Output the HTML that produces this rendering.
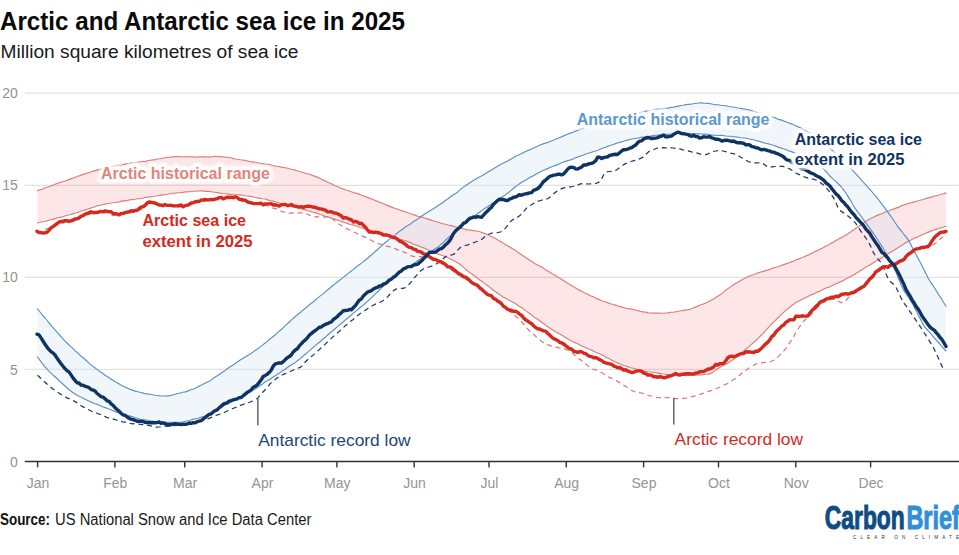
<!DOCTYPE html>
<html><head><meta charset="utf-8"><title>Arctic and Antarctic sea ice in 2025</title>
<style>html,body{margin:0;padding:0;background:#fff;width:959px;height:555px;overflow:hidden;font-family:"Liberation Sans",sans-serif}</style></head>
<body>
<svg width="959" height="555" viewBox="0 0 959 555" style="display:block">
<rect width="959" height="555" fill="#fff"/>
<g font-family="Liberation Sans, sans-serif" fill="#111">
<text x="0" y="29.7" font-size="25.4" font-weight="bold" textLength="405" lengthAdjust="spacingAndGlyphs" fill="#0a0a0a">Arctic and Antarctic sea ice in 2025</text>
<text x="0.5" y="57.5" font-size="18.8" textLength="298" lengthAdjust="spacingAndGlyphs" fill="#1a1a1a">Million square kilometres of sea ice</text>
<text x="0" y="525.3" font-size="16" font-weight="bold" textLength="50" lengthAdjust="spacingAndGlyphs" fill="#111">Source:</text>
<text x="55" y="525.3" font-size="16" textLength="256.4" lengthAdjust="spacingAndGlyphs" fill="#1a1a1a">US National Snow and Ice Data Center</text>
</g>
<g stroke="#e3e3e3" stroke-width="1.3">
<line x1="25" x2="959" y1="369.4" y2="369.4"/>
<line x1="25" x2="959" y1="277.3" y2="277.3"/>
<line x1="25" x2="959" y1="185.3" y2="185.3"/>
<line x1="25" x2="959" y1="93.2" y2="93.2"/>
</g>
<g font-family="Liberation Sans, sans-serif" font-size="14" fill="#949494">
<text x="17.8" y="466.6" text-anchor="end">0</text>
<text x="17.8" y="374.5" text-anchor="end">5</text>
<text x="17.8" y="282.4" text-anchor="end">10</text>
<text x="17.8" y="190.4" text-anchor="end">15</text>
<text x="17.8" y="98.3" text-anchor="end">20</text>
<text x="38.0" y="488.3" text-anchor="middle">Jan</text>
<text x="115.3" y="488.3" text-anchor="middle">Feb</text>
<text x="185.1" y="488.3" text-anchor="middle">Mar</text>
<text x="262.5" y="488.3" text-anchor="middle">Apr</text>
<text x="337.3" y="488.3" text-anchor="middle">May</text>
<text x="414.6" y="488.3" text-anchor="middle">Jun</text>
<text x="489.4" y="488.3" text-anchor="middle">Jul</text>
<text x="566.7" y="488.3" text-anchor="middle">Aug</text>
<text x="644.0" y="488.3" text-anchor="middle">Sep</text>
<text x="718.9" y="488.3" text-anchor="middle">Oct</text>
<text x="796.2" y="488.3" text-anchor="middle">Nov</text>
<text x="871.0" y="488.3" text-anchor="middle">Dec</text>
</g>
<path d="M37.5,190.6 40,189.7 42.5,189.1 45,187.9 47.5,187 50,186.3 52.5,185.4 55,184.2 57.5,183.4 60,182.5 62.5,181.7 65,181 67.5,180.1 70,179.1 72.5,178.2 75,177.4 77.5,176.2 80,175.6 82.5,174.6 85.1,173.7 87.6,172.9 90.1,172.3 92.6,171.4 95.1,170.6 97.6,169.9 100.1,169.2 102.6,168.4 105.1,168.1 107.6,167.4 110.1,166.8 112.6,166.4 115.1,166.1 117.6,165.4 120.1,165.2 122.6,164.7 125.1,164.1 127.6,163.6 130.1,163.4 132.6,162.8 135.1,162.7 137.6,162.2 140.1,161.8 142.6,161.5 145.1,161.4 147.6,160.7 150.1,160.3 152.6,159.9 155.1,159.6 157.6,159 160.1,158.7 162.6,158.2 165.1,157.8 167.6,157.4 170.1,157.2 172.6,156.7 175.2,156.6 177.7,156.5 180.2,156.7 182.7,156.7 185.2,156.9 187.7,156.8 190.2,156.7 192.7,156.9 195.2,157.1 197.7,157 200.2,156.9 202.7,156.9 205.2,156.9 207.7,157 210.2,157.1 212.7,156.7 215.2,156.4 217.7,156.5 220.2,156.6 222.7,156.7 225.2,157.1 227.7,157.3 230.2,157.8 232.7,158.4 235.2,159 237.7,159.2 240.2,159.7 242.7,160 245.2,160.5 247.7,161 250.2,161.6 252.7,161.9 255.2,162.3 257.7,162.8 260.2,163.2 262.7,163.5 265.3,164 267.8,164.3 270.3,164.8 272.8,165.5 275.3,166.1 277.8,166.3 280.3,166.9 282.8,167.4 285.3,167.8 287.8,168.3 290.3,169 292.8,169.5 295.3,170.1 297.8,171 300.3,171.7 302.8,172.2 305.3,173.2 307.8,173.8 310.3,174.5 312.8,175.6 315.3,176.4 317.8,177.4 320.3,178.5 322.8,179.9 325.3,181 327.8,182.2 330.3,183.3 332.8,184.5 335.3,185.7 337.8,186.7 340.3,188 342.8,188.9 345.3,189.8 347.8,190.5 350.3,191.5 352.8,192.3 355.3,193.1 357.9,193.6 360.4,194.7 362.9,195.8 365.4,196.6 367.9,197.6 370.4,198.5 372.9,199.5 375.4,200.5 377.9,201.6 380.4,202.5 382.9,203.5 385.4,204.6 387.9,205.6 390.4,206.6 392.9,207.6 395.4,208.5 397.9,209.2 400.4,210.2 402.9,211.1 405.4,211.7 407.9,212.8 410.4,213.8 412.9,214.5 415.4,215.4 417.9,216.3 420.4,216.9 422.9,217.5 425.4,218.3 427.9,219.1 430.4,219.9 432.9,220.8 435.4,221.5 437.9,222.2 440.4,223 442.9,223.8 445.4,224.2 448,225 450.5,225.4 453,226.1 455.5,227 458,227.9 460.5,228.2 463,228.7 465.5,229.4 468,229.9 470.5,230.1 473,230.6 475.5,230.8 478,231.2 480.5,232 483,232.9 485.5,233.7 488,234.7 490.5,235.9 493,237.2 495.5,238.6 498,240.1 500.5,241.4 503,243 505.5,244.5 508,246.1 510.5,247.5 513,249.1 515.5,250.4 518,252.2 520.5,254.1 523,255.8 525.5,257.4 528,259 530.5,260.8 533,262.2 535.5,263.9 538.1,265.2 540.6,266.4 543.1,267.9 545.6,269.7 548.1,271.2 550.6,272.7 553.1,274.2 555.6,275.6 558.1,277.2 560.6,278.7 563.1,280.2 565.6,281.7 568.1,283.4 570.6,285 573.1,286.6 575.6,288 578.1,289.6 580.6,290.6 583.1,292 585.6,293.3 588.1,294.4 590.6,295.7 593.1,296.8 595.6,298 598.1,299.1 600.6,300.2 603.1,301.2 605.6,301.8 608.1,302.9 610.6,303.8 613.1,304.5 615.6,305.1 618.1,306 620.6,306.6 623.1,307.4 625.6,308.2 628.2,308.6 630.7,308.9 633.2,309.6 635.7,310 638.2,310.7 640.7,311.4 643.2,311.9 645.7,312.1 648.2,312.9 650.7,313 653.2,313.1 655.7,313.1 658.2,313.1 660.7,313.2 663.2,313.2 665.7,313 668.2,312.9 670.7,312.3 673.2,312.2 675.7,311.7 678.2,311.3 680.7,310.8 683.2,310.6 685.7,309.9 688.2,309.6 690.7,309 693.2,308 695.7,306.9 698.2,306.1 700.7,304.8 703.2,304 705.7,303 708.2,301.8 710.7,300.4 713.2,299.2 715.7,297.6 718.2,295.9 720.8,294.3 723.3,292.4 725.8,290.3 728.3,288.4 730.8,286.6 733.3,284.9 735.8,283.3 738.3,282 740.8,280.4 743.3,279.1 745.8,277.8 748.3,276.5 750.8,275.5 753.3,274.8 755.8,273.8 758.3,272.9 760.8,272 763.3,271.4 765.8,270.4 768.3,269.9 770.8,269 773.3,267.9 775.8,267.2 778.3,266.8 780.8,265.6 783.3,264.9 785.8,263.9 788.3,263 790.8,262.1 793.3,261.2 795.8,260 798.3,259.1 800.8,258 803.3,257.2 805.8,255.9 808.3,255.1 810.9,253.6 813.4,252.5 815.9,251.1 818.4,250.1 820.9,248.7 823.4,247.5 825.9,246.1 828.4,244.9 830.9,243.4 833.4,242.3 835.9,240.6 838.4,239.2 840.9,237.8 843.4,236.4 845.9,234.9 848.4,233.4 850.9,231.7 853.4,229.9 855.9,228.2 858.4,226.6 860.9,224.7 863.4,223.2 865.9,221.3 868.4,219.7 870.9,218.3 873.4,217.3 875.9,215.9 878.4,214.9 880.9,214 883.4,213 885.9,211.8 888.4,211 890.9,210 893.4,209.1 895.9,208.1 898.4,207.4 901,205.9 903.5,205.1 906,204.2 908.5,203.4 911,202.7 913.5,202.1 916,201.2 918.5,200.7 921,200 923.5,199.5 926,198.4 928.5,197.9 931,197.1 933.5,196.2 936,195.7 938.5,195.2 941,194.3 943.5,193.8 946,192.9 L946.0,226.3 943.5,227.2 941.0,227.7 938.5,228.5 936.0,229.4 933.5,230.5 931.0,231.1 928.5,232.1 926.0,233.2 923.5,234.3 921.0,235.2 918.5,236.6 916.0,237.6 913.5,238.4 911.0,239.9 908.5,241.2 906.0,242.4 903.5,244.2 901.0,245.7 898.4,247.5 895.9,249.1 893.4,250.8 890.9,252.1 888.4,253.6 885.9,255.3 883.4,256.8 880.9,258.2 878.4,260.0 875.9,261.2 873.4,262.7 870.9,264.3 868.4,265.8 865.9,267.1 863.4,268.7 860.9,270.3 858.4,271.9 855.9,273.5 853.4,275.2 850.9,276.3 848.4,277.8 845.9,279.1 843.4,280.5 840.9,281.6 838.4,282.7 835.9,283.8 833.4,285.1 830.9,286.3 828.4,287.4 825.9,288.0 823.4,289.3 820.9,290.7 818.4,291.6 815.9,292.7 813.4,294.1 810.9,294.9 808.3,296.3 805.8,297.6 803.3,298.8 800.8,300.0 798.3,301.3 795.8,302.6 793.3,304.5 790.8,306.3 788.3,308.5 785.8,310.4 783.3,312.7 780.8,315.1 778.3,317.5 775.8,319.8 773.3,322.4 770.8,324.9 768.3,327.6 765.8,330.4 763.3,333.1 760.8,335.5 758.3,338.2 755.8,340.5 753.3,342.7 750.8,344.9 748.3,347.2 745.8,348.9 743.3,351.3 740.8,353.6 738.3,355.5 735.8,357.5 733.3,359.5 730.8,361.0 728.3,362.7 725.8,364.3 723.3,365.5 720.8,366.7 718.2,368.6 715.7,370.1 713.2,371.9 710.7,373.4 708.2,374.3 705.7,374.2 703.2,374.6 700.7,374.9 698.2,374.9 695.7,375.1 693.2,375.3 690.7,375.3 688.2,375.5 685.7,375.5 683.2,375.4 680.7,375.2 678.2,375.4 675.7,375.2 673.2,375.0 670.7,375.0 668.2,374.6 665.7,374.3 663.2,374.0 660.7,373.6 658.2,373.1 655.7,372.7 653.2,372.3 650.7,372.0 648.2,371.8 645.7,371.4 643.2,370.7 640.7,370.0 638.2,369.7 635.7,369.0 633.2,368.3 630.7,367.7 628.2,366.9 625.6,366.0 623.1,365.5 620.6,364.3 618.1,363.1 615.6,362.0 613.1,360.7 610.6,359.6 608.1,358.2 605.6,357.1 603.1,355.6 600.6,354.2 598.1,353.3 595.6,352.2 593.1,350.9 590.6,349.8 588.1,348.7 585.6,347.5 583.1,346.6 580.6,345.4 578.1,344.1 575.6,342.9 573.1,341.8 570.6,340.4 568.1,338.9 565.6,337.4 563.1,335.9 560.6,334.5 558.1,333.3 555.6,331.8 553.1,330.2 550.6,328.6 548.1,327.0 545.6,325.1 543.1,323.3 540.6,321.5 538.1,319.5 535.5,317.9 533.0,316.3 530.5,314.1 528.0,312.4 525.5,310.6 523.0,308.6 520.5,306.9 518.0,305.4 515.5,303.7 513.0,302.2 510.5,300.9 508.0,299.6 505.5,298.3 503.0,296.9 500.5,295.3 498.0,293.4 495.5,291.7 493.0,290.0 490.5,287.9 488.0,286.0 485.5,284.1 483.0,282.1 480.5,280.4 478.0,278.8 475.5,276.8 473.0,274.8 470.5,273.1 468.0,271.3 465.5,269.2 463.0,266.9 460.5,264.8 458.0,263.0 455.5,261.6 453.0,260.3 450.5,259.0 448.0,257.8 445.4,256.6 442.9,255.8 440.4,254.8 437.9,254.1 435.4,252.7 432.9,251.5 430.4,250.7 427.9,249.7 425.4,248.5 422.9,247.6 420.4,246.7 417.9,245.6 415.4,244.8 412.9,244.0 410.4,242.5 407.9,241.6 405.4,240.7 402.9,240.0 400.4,239.2 397.9,238.8 395.4,238.1 392.9,237.5 390.4,237.1 387.9,236.3 385.4,235.4 382.9,234.8 380.4,234.0 377.9,233.4 375.4,232.4 372.9,231.7 370.4,230.7 367.9,229.8 365.4,229.2 362.9,228.3 360.4,227.5 357.9,226.5 355.3,225.8 352.8,224.9 350.3,224.5 347.8,223.6 345.3,222.7 342.8,221.9 340.3,221.0 337.8,220.2 335.3,219.4 332.8,218.6 330.3,217.7 327.8,216.9 325.3,216.3 322.8,215.3 320.3,214.5 317.8,213.6 315.3,212.6 312.8,212.2 310.3,211.4 307.8,210.7 305.3,209.9 302.8,209.3 300.3,208.7 297.8,208.0 295.3,207.4 292.8,206.6 290.3,205.7 287.8,205.1 285.3,204.7 282.8,204.0 280.3,203.3 277.8,202.5 275.3,201.8 272.8,201.1 270.3,200.6 267.8,199.9 265.3,199.0 262.7,198.8 260.2,198.4 257.7,197.9 255.2,197.5 252.7,196.8 250.2,196.4 247.7,196.0 245.2,195.8 242.7,195.2 240.2,194.9 237.7,194.7 235.2,194.7 232.7,194.6 230.2,194.4 227.7,194.1 225.2,193.8 222.7,193.5 220.2,193.1 217.7,192.6 215.2,192.2 212.7,192.0 210.2,191.6 207.7,191.2 205.2,191.4 202.7,190.9 200.2,190.9 197.7,191.0 195.2,191.2 192.7,191.3 190.2,191.8 187.7,191.9 185.2,191.9 182.7,192.4 180.2,192.8 177.7,192.7 175.2,193.1 172.6,193.3 170.1,193.7 167.6,194.2 165.1,194.6 162.6,194.9 160.1,195.4 157.6,195.8 155.1,196.3 152.6,196.5 150.1,196.9 147.6,197.1 145.1,197.5 142.6,198.3 140.1,198.6 137.6,198.7 135.1,199.2 132.6,199.6 130.1,199.8 127.6,200.4 125.1,200.9 122.6,200.9 120.1,201.6 117.6,202.1 115.1,202.5 112.6,202.8 110.1,203.2 107.6,203.5 105.1,204.1 102.6,204.7 100.1,205.3 97.6,205.6 95.1,206.8 92.6,207.5 90.1,208.3 87.6,209.0 85.1,209.9 82.5,210.5 80.0,211.5 77.5,212.5 75.0,213.2 72.5,213.9 70.0,214.7 67.5,215.3 65.0,216.0 62.5,216.7 60.0,217.4 57.5,217.8 55.0,218.6 52.5,219.4 50.0,220.0 47.5,220.7 45.0,221.5 42.5,221.7 40.0,222.3 37.5,223.0Z" fill="#ee2f3f" fill-opacity="0.12"/>
<path d="M37.5,308.9 40,312 42.5,315.2 45,318 47.5,321 50,324.1 52.5,327.1 55,329.8 57.5,332.7 60,335.5 62.5,338.3 65,341.1 67.5,343.5 70,345.9 72.5,348.2 75,350.7 77.5,352.6 80,355.2 82.5,357.3 85.1,359.5 87.6,361.7 90.1,364.1 92.6,366.1 95.1,368 97.6,369.9 100.1,371.8 102.6,373.3 105.1,375.3 107.6,376.8 110.1,378.4 112.6,380 115.1,381.7 117.6,383 120.1,384.6 122.6,385.9 125.1,387.1 127.6,388.1 130.1,389.4 132.6,390.1 135.1,391.1 137.6,391.7 140.1,392.3 142.6,392.9 145.1,393.7 147.6,393.9 150.1,394.3 152.6,394.7 155.1,395.3 157.6,395.5 160.1,396 162.6,396 165.1,396 167.6,395.9 170.1,395.8 172.6,395 175.2,394.3 177.7,393.5 180.2,393 182.7,392.3 185.2,391.9 187.7,391.1 190.2,390 192.7,389.2 195.2,388.3 197.7,387 200.2,385.6 202.7,384.4 205.2,383.1 207.7,381.9 210.2,380.7 212.7,378.9 215.2,377 217.7,375.5 220.2,373.8 222.7,372 225.2,370.4 227.7,368.5 230.2,366.8 232.7,365.2 235.2,363.6 237.7,361.7 240.2,360.1 242.7,358.5 245.2,357 247.7,355.5 250.2,354.1 252.7,352.2 255.2,350.4 257.7,348.7 260.2,346.9 262.7,344.9 265.3,343 267.8,340.9 270.3,338.8 272.8,336.8 275.3,334.8 277.8,332.4 280.3,330.3 282.8,328.1 285.3,325.7 287.8,323.3 290.3,321.2 292.8,318.7 295.3,316.5 297.8,314.5 300.3,312.5 302.8,310.2 305.3,308.3 307.8,306.1 310.3,304 312.8,302.2 315.3,300 317.8,297.9 320.3,295.9 322.8,294.1 325.3,291.9 327.8,289.8 330.3,287.7 332.8,285.5 335.3,283.6 337.8,281.5 340.3,279.7 342.8,277.6 345.3,275.7 347.8,273.6 350.3,271.8 352.8,269.9 355.3,267.8 357.9,265.6 360.4,263.9 362.9,262.1 365.4,260 367.9,258 370.4,255.8 372.9,253.6 375.4,251.3 377.9,249.2 380.4,246.8 382.9,244.5 385.4,242.5 387.9,240.4 390.4,238.4 392.9,236.5 395.4,234.6 397.9,232.5 400.4,230.8 402.9,229 405.4,227 407.9,225.5 410.4,224 412.9,222.1 415.4,220.4 417.9,218.9 420.4,217 422.9,215.3 425.4,213.7 427.9,212.1 430.4,210.5 432.9,209.1 435.4,207.4 437.9,205.7 440.4,204.1 442.9,202.5 445.4,200.5 448,198.8 450.5,196.8 453,195 455.5,193.4 458,191.7 460.5,189.4 463,187.4 465.5,185.6 468,184 470.5,182.2 473,180.8 475.5,179.3 478,177.8 480.5,176.6 483,175.2 485.5,173.6 488,172 490.5,170.5 493,169 495.5,167.5 498,166.1 500.5,164.5 503,163.2 505.5,162 508,160.8 510.5,159.2 513,157.9 515.5,156.3 518,155.2 520.5,154 523,152.9 525.5,151.6 528,150.4 530.5,149.5 533,148.2 535.5,147.3 538.1,146.1 540.6,144.8 543.1,143.9 545.6,143.1 548.1,142.2 550.6,141.3 553.1,140.3 555.6,139.2 558.1,138.3 560.6,137.2 563.1,136.1 565.6,135 568.1,134 570.6,133.1 573.1,132.2 575.6,131.1 578.1,130.3 580.6,129.1 583.1,128.3 585.6,127.4 588.1,126.4 590.6,125.7 593.1,124.9 595.6,124.1 598.1,123.4 600.6,122.7 603.1,122 605.6,121 608.1,120.4 610.6,119.8 613.1,119 615.6,118.2 618.1,117.7 620.6,117 623.1,116.4 625.6,116 628.2,115.2 630.7,114.4 633.2,113.9 635.7,113.2 638.2,112.7 640.7,112.3 643.2,111.8 645.7,111.1 648.2,111 650.7,110.4 653.2,109.9 655.7,109.4 658.2,109 660.7,108.9 663.2,108.6 665.7,108.3 668.2,108.1 670.7,107.4 673.2,107.2 675.7,106.6 678.2,106.1 680.7,105.5 683.2,105.2 685.7,104.6 688.2,104.4 690.7,104.2 693.2,103.7 695.7,103.3 698.2,103.2 700.7,102.8 703.2,103.1 705.7,103.3 708.2,103.4 710.7,103.7 713.2,104.2 715.7,104.6 718.2,104.8 720.8,105.3 723.3,105.5 725.8,105.8 728.3,106.3 730.8,106.7 733.3,107 735.8,107.5 738.3,108 740.8,108.4 743.3,108.9 745.8,109.3 748.3,109.7 750.8,110.3 753.3,111.3 755.8,111.9 758.3,112.7 760.8,113.3 763.3,114.2 765.8,114.8 768.3,115.9 770.8,116.6 773.3,117.2 775.8,118.1 778.3,119.4 780.8,119.9 783.3,120.9 785.8,121.7 788.3,122.7 790.8,123.6 793.3,124.8 795.8,125.7 798.3,126.9 800.8,128 803.3,129.5 805.8,130.7 808.3,132.3 810.9,133.4 813.4,135.1 815.9,136.5 818.4,138.5 820.9,140.2 823.4,142.4 825.9,144.5 828.4,146.8 830.9,149 833.4,151.5 835.9,153.5 838.4,155.9 840.9,158.3 843.4,160.8 845.9,163.3 848.4,165.9 850.9,168.5 853.4,171.1 855.9,173.8 858.4,176.7 860.9,179.3 863.4,182.3 865.9,184.9 868.4,187.8 870.9,190.5 873.4,193.6 875.9,196.3 878.4,199.5 880.9,202.8 883.4,206.1 885.9,209.3 888.4,212.9 890.9,216.3 893.4,220 895.9,223.7 898.4,227.5 901,230.5 903.5,233.8 906,236.9 908.5,240.4 911,244.7 913.5,250.1 916,254.5 918.5,259.1 921,263.7 923.5,268.8 926,273.7 928.5,278.7 931,282.8 933.5,286.2 936,290.3 938.5,294.4 941,298.1 943.5,302.3 946,306.2 L946.0,351.0 943.5,348.4 941.0,345.4 938.5,342.5 936.0,339.8 933.5,337.0 931.0,333.8 928.5,331.2 926.0,328.5 923.5,325.3 921.0,320.1 918.5,315.6 916.0,310.6 913.5,305.5 911.0,301.3 908.5,297.2 906.0,293.6 903.5,290.1 901.0,284.5 898.4,278.2 895.9,272.1 893.4,267.1 890.9,261.9 888.4,257.2 885.9,253.0 883.4,248.8 880.9,244.6 878.4,241.0 875.9,237.0 873.4,233.3 870.9,229.8 868.4,226.4 865.9,222.8 863.4,219.6 860.9,216.2 858.4,212.9 855.9,209.4 853.4,205.8 850.9,201.1 848.4,197.1 845.9,193.0 843.4,189.6 840.9,186.5 838.4,184.0 835.9,181.6 833.4,179.4 830.9,177.0 828.4,174.4 825.9,171.3 823.4,169.1 820.9,167.3 818.4,165.3 815.9,163.7 813.4,162.5 810.9,160.8 808.3,159.6 805.8,158.4 803.3,157.1 800.8,155.7 798.3,154.5 795.8,153.2 793.3,152.4 790.8,151.4 788.3,150.7 785.8,149.5 783.3,148.7 780.8,147.9 778.3,147.1 775.8,146.1 773.3,145.3 770.8,144.5 768.3,143.9 765.8,143.3 763.3,142.6 760.8,141.7 758.3,141.1 755.8,140.5 753.3,139.8 750.8,139.2 748.3,138.8 745.8,138.0 743.3,138.0 740.8,137.8 738.3,137.3 735.8,136.9 733.3,136.8 730.8,136.3 728.3,136.2 725.8,136.0 723.3,135.6 720.8,135.3 718.2,135.5 715.7,135.2 713.2,135.1 710.7,134.9 708.2,134.6 705.7,134.0 703.2,134.1 700.7,134.0 698.2,133.8 695.7,133.8 693.2,133.7 690.7,133.6 688.2,133.7 685.7,133.6 683.2,133.5 680.7,133.2 678.2,133.5 675.7,133.5 673.2,133.7 670.7,134.0 668.2,134.2 665.7,134.4 663.2,134.8 660.7,135.0 658.2,135.1 655.7,135.3 653.2,135.6 650.7,136.1 648.2,136.5 645.7,137.0 643.2,137.1 640.7,137.4 638.2,138.0 635.7,138.4 633.2,138.7 630.7,139.3 628.2,139.9 625.6,140.5 623.1,141.5 620.6,142.1 618.1,142.8 615.6,143.6 613.1,144.5 610.6,145.5 608.1,146.1 605.6,147.2 603.1,148.0 600.6,149.0 598.1,150.2 595.6,151.0 593.1,151.7 590.6,152.5 588.1,153.3 585.6,154.0 583.1,155.2 580.6,156.0 578.1,156.9 575.6,157.8 573.1,159.0 570.6,159.9 568.1,160.6 565.6,161.4 563.1,162.3 560.6,163.2 558.1,164.4 555.6,165.4 553.1,166.2 550.6,167.3 548.1,168.4 545.6,169.4 543.1,170.6 540.6,171.8 538.1,172.9 535.5,174.4 533.0,176.0 530.5,177.1 528.0,178.7 525.5,180.2 523.0,181.5 520.5,183.0 518.0,184.9 515.5,186.7 513.0,188.7 510.5,190.9 508.0,193.0 505.5,194.9 503.0,196.5 500.5,198.1 498.0,199.5 495.5,201.4 493.0,203.2 490.5,204.7 488.0,206.4 485.5,208.1 483.0,209.6 480.5,211.5 478.0,213.5 475.5,215.1 473.0,216.9 470.5,219.1 468.0,221.4 465.5,223.3 463.0,225.3 460.5,227.2 458.0,229.1 455.5,231.1 453.0,233.4 450.5,235.6 448.0,238.0 445.4,240.3 442.9,242.8 440.4,244.9 437.9,247.2 435.4,248.6 432.9,250.3 430.4,252.2 427.9,253.9 425.4,255.4 422.9,257.2 420.4,259.0 417.9,260.5 415.4,262.5 412.9,264.4 410.4,265.6 407.9,267.3 405.4,269.0 402.9,270.7 400.4,272.3 397.9,274.3 395.4,275.9 392.9,277.8 390.4,279.9 387.9,282.0 385.4,283.9 382.9,286.5 380.4,288.8 377.9,291.5 375.4,293.8 372.9,296.4 370.4,298.7 367.9,300.9 365.4,303.3 362.9,305.4 360.4,307.5 357.9,309.4 355.3,311.6 352.8,313.6 350.3,316.0 347.8,318.0 345.3,320.0 342.8,322.2 340.3,324.2 337.8,326.4 335.3,328.5 332.8,330.8 330.3,332.8 327.8,335.0 325.3,337.3 322.8,339.3 320.3,341.5 317.8,343.5 315.3,345.4 312.8,347.8 310.3,349.9 307.8,352.1 305.3,354.2 302.8,356.5 300.3,358.6 297.8,360.5 295.3,362.4 292.8,364.1 290.3,365.5 287.8,367.3 285.3,369.2 282.8,370.8 280.3,372.5 277.8,374.1 275.3,375.7 272.8,377.2 270.3,379.0 267.8,380.5 265.3,381.8 262.7,383.9 260.2,385.6 257.7,387.2 255.2,388.9 252.7,390.2 250.2,391.8 247.7,393.2 245.2,394.8 242.7,395.9 240.2,397.1 237.7,398.4 235.2,399.8 232.7,401.1 230.2,402.4 227.7,403.7 225.2,405.1 222.7,406.7 220.2,408.2 217.7,409.5 215.2,411.0 212.7,412.7 210.2,414.1 207.7,415.3 205.2,416.6 202.7,416.9 200.2,417.6 197.7,418.3 195.2,418.9 192.7,419.4 190.2,420.3 187.7,420.8 185.2,421.2 182.7,422.0 180.2,422.4 177.7,422.2 175.2,422.4 172.6,422.3 170.1,422.2 167.6,422.3 165.1,422.2 162.6,422.0 160.1,421.8 157.6,421.6 155.1,421.5 152.6,421.1 150.1,420.8 147.6,420.3 145.1,419.9 142.6,419.8 140.1,419.2 137.6,418.3 135.1,417.7 132.6,416.9 130.1,416.1 127.6,415.5 125.1,414.9 122.6,413.7 120.1,413.2 117.6,412.5 115.1,411.6 112.6,410.5 110.1,409.5 107.6,408.5 105.1,407.6 102.6,406.7 100.1,405.7 97.6,404.4 95.1,403.8 92.6,402.7 90.1,401.6 87.6,400.4 85.1,399.2 82.5,397.8 80.0,396.7 77.5,395.5 75.0,393.9 72.5,392.3 70.0,390.5 67.5,388.2 65.0,386.0 62.5,383.8 60.0,381.6 57.5,379.0 55.0,376.8 52.5,374.6 50.0,372.1 47.5,369.6 45.0,367.0 42.5,363.6 40.0,360.3 37.5,357.0Z" fill="#d2e1ee" fill-opacity="0.3"/>
<g fill="none" stroke-linejoin="round" stroke-linecap="round">
<path d="M37.5,190.6 40,189.7 42.5,189.1 45,187.9 47.5,187 50,186.3 52.5,185.4 55,184.2 57.5,183.4 60,182.5 62.5,181.7 65,181 67.5,180.1 70,179.1 72.5,178.2 75,177.4 77.5,176.2 80,175.6 82.5,174.6 85.1,173.7 87.6,172.9 90.1,172.3 92.6,171.4 95.1,170.6 97.6,169.9 100.1,169.2 102.6,168.4 105.1,168.1 107.6,167.4 110.1,166.8 112.6,166.4 115.1,166.1 117.6,165.4 120.1,165.2 122.6,164.7 125.1,164.1 127.6,163.6 130.1,163.4 132.6,162.8 135.1,162.7 137.6,162.2 140.1,161.8 142.6,161.5 145.1,161.4 147.6,160.7 150.1,160.3 152.6,159.9 155.1,159.6 157.6,159 160.1,158.7 162.6,158.2 165.1,157.8 167.6,157.4 170.1,157.2 172.6,156.7 175.2,156.6 177.7,156.5 180.2,156.7 182.7,156.7 185.2,156.9 187.7,156.8 190.2,156.7 192.7,156.9 195.2,157.1 197.7,157 200.2,156.9 202.7,156.9 205.2,156.9 207.7,157 210.2,157.1 212.7,156.7 215.2,156.4 217.7,156.5 220.2,156.6 222.7,156.7 225.2,157.1 227.7,157.3 230.2,157.8 232.7,158.4 235.2,159 237.7,159.2 240.2,159.7 242.7,160 245.2,160.5 247.7,161 250.2,161.6 252.7,161.9 255.2,162.3 257.7,162.8 260.2,163.2 262.7,163.5 265.3,164 267.8,164.3 270.3,164.8 272.8,165.5 275.3,166.1 277.8,166.3 280.3,166.9 282.8,167.4 285.3,167.8 287.8,168.3 290.3,169 292.8,169.5 295.3,170.1 297.8,171 300.3,171.7 302.8,172.2 305.3,173.2 307.8,173.8 310.3,174.5 312.8,175.6 315.3,176.4 317.8,177.4 320.3,178.5 322.8,179.9 325.3,181 327.8,182.2 330.3,183.3 332.8,184.5 335.3,185.7 337.8,186.7 340.3,188 342.8,188.9 345.3,189.8 347.8,190.5 350.3,191.5 352.8,192.3 355.3,193.1 357.9,193.6 360.4,194.7 362.9,195.8 365.4,196.6 367.9,197.6 370.4,198.5 372.9,199.5 375.4,200.5 377.9,201.6 380.4,202.5 382.9,203.5 385.4,204.6 387.9,205.6 390.4,206.6 392.9,207.6 395.4,208.5 397.9,209.2 400.4,210.2 402.9,211.1 405.4,211.7 407.9,212.8 410.4,213.8 412.9,214.5 415.4,215.4 417.9,216.3 420.4,216.9 422.9,217.5 425.4,218.3 427.9,219.1 430.4,219.9 432.9,220.8 435.4,221.5 437.9,222.2 440.4,223 442.9,223.8 445.4,224.2 448,225 450.5,225.4 453,226.1 455.5,227 458,227.9 460.5,228.2 463,228.7 465.5,229.4 468,229.9 470.5,230.1 473,230.6 475.5,230.8 478,231.2 480.5,232 483,232.9 485.5,233.7 488,234.7 490.5,235.9 493,237.2 495.5,238.6 498,240.1 500.5,241.4 503,243 505.5,244.5 508,246.1 510.5,247.5 513,249.1 515.5,250.4 518,252.2 520.5,254.1 523,255.8 525.5,257.4 528,259 530.5,260.8 533,262.2 535.5,263.9 538.1,265.2 540.6,266.4 543.1,267.9 545.6,269.7 548.1,271.2 550.6,272.7 553.1,274.2 555.6,275.6 558.1,277.2 560.6,278.7 563.1,280.2 565.6,281.7 568.1,283.4 570.6,285 573.1,286.6 575.6,288 578.1,289.6 580.6,290.6 583.1,292 585.6,293.3 588.1,294.4 590.6,295.7 593.1,296.8 595.6,298 598.1,299.1 600.6,300.2 603.1,301.2 605.6,301.8 608.1,302.9 610.6,303.8 613.1,304.5 615.6,305.1 618.1,306 620.6,306.6 623.1,307.4 625.6,308.2 628.2,308.6 630.7,308.9 633.2,309.6 635.7,310 638.2,310.7 640.7,311.4 643.2,311.9 645.7,312.1 648.2,312.9 650.7,313 653.2,313.1 655.7,313.1 658.2,313.1 660.7,313.2 663.2,313.2 665.7,313 668.2,312.9 670.7,312.3 673.2,312.2 675.7,311.7 678.2,311.3 680.7,310.8 683.2,310.6 685.7,309.9 688.2,309.6 690.7,309 693.2,308 695.7,306.9 698.2,306.1 700.7,304.8 703.2,304 705.7,303 708.2,301.8 710.7,300.4 713.2,299.2 715.7,297.6 718.2,295.9 720.8,294.3 723.3,292.4 725.8,290.3 728.3,288.4 730.8,286.6 733.3,284.9 735.8,283.3 738.3,282 740.8,280.4 743.3,279.1 745.8,277.8 748.3,276.5 750.8,275.5 753.3,274.8 755.8,273.8 758.3,272.9 760.8,272 763.3,271.4 765.8,270.4 768.3,269.9 770.8,269 773.3,267.9 775.8,267.2 778.3,266.8 780.8,265.6 783.3,264.9 785.8,263.9 788.3,263 790.8,262.1 793.3,261.2 795.8,260 798.3,259.1 800.8,258 803.3,257.2 805.8,255.9 808.3,255.1 810.9,253.6 813.4,252.5 815.9,251.1 818.4,250.1 820.9,248.7 823.4,247.5 825.9,246.1 828.4,244.9 830.9,243.4 833.4,242.3 835.9,240.6 838.4,239.2 840.9,237.8 843.4,236.4 845.9,234.9 848.4,233.4 850.9,231.7 853.4,229.9 855.9,228.2 858.4,226.6 860.9,224.7 863.4,223.2 865.9,221.3 868.4,219.7 870.9,218.3 873.4,217.3 875.9,215.9 878.4,214.9 880.9,214 883.4,213 885.9,211.8 888.4,211 890.9,210 893.4,209.1 895.9,208.1 898.4,207.4 901,205.9 903.5,205.1 906,204.2 908.5,203.4 911,202.7 913.5,202.1 916,201.2 918.5,200.7 921,200 923.5,199.5 926,198.4 928.5,197.9 931,197.1 933.5,196.2 936,195.7 938.5,195.2 941,194.3 943.5,193.8 946,192.9" stroke="#dc7d75" stroke-width="1.15"/>
<path d="M37.5,223 40,222.3 42.5,221.7 45,221.5 47.5,220.7 50,220 52.5,219.4 55,218.6 57.5,217.8 60,217.4 62.5,216.7 65,216 67.5,215.3 70,214.7 72.5,213.9 75,213.2 77.5,212.5 80,211.5 82.5,210.5 85.1,209.9 87.6,209 90.1,208.3 92.6,207.5 95.1,206.8 97.6,205.6 100.1,205.3 102.6,204.7 105.1,204.1 107.6,203.5 110.1,203.2 112.6,202.8 115.1,202.5 117.6,202.1 120.1,201.6 122.6,200.9 125.1,200.9 127.6,200.4 130.1,199.8 132.6,199.6 135.1,199.2 137.6,198.7 140.1,198.6 142.6,198.3 145.1,197.5 147.6,197.1 150.1,196.9 152.6,196.5 155.1,196.3 157.6,195.8 160.1,195.4 162.6,194.9 165.1,194.6 167.6,194.2 170.1,193.7 172.6,193.3 175.2,193.1 177.7,192.7 180.2,192.8 182.7,192.4 185.2,191.9 187.7,191.9 190.2,191.8 192.7,191.3 195.2,191.2 197.7,191 200.2,190.9 202.7,190.9 205.2,191.4 207.7,191.2 210.2,191.6 212.7,192 215.2,192.2 217.7,192.6 220.2,193.1 222.7,193.5 225.2,193.8 227.7,194.1 230.2,194.4 232.7,194.6 235.2,194.7 237.7,194.7 240.2,194.9 242.7,195.2 245.2,195.8 247.7,196 250.2,196.4 252.7,196.8 255.2,197.5 257.7,197.9 260.2,198.4 262.7,198.8 265.3,199 267.8,199.9 270.3,200.6 272.8,201.1 275.3,201.8 277.8,202.5 280.3,203.3 282.8,204 285.3,204.7 287.8,205.1 290.3,205.7 292.8,206.6 295.3,207.4 297.8,208 300.3,208.7 302.8,209.3 305.3,209.9 307.8,210.7 310.3,211.4 312.8,212.2 315.3,212.6 317.8,213.6 320.3,214.5 322.8,215.3 325.3,216.3 327.8,216.9 330.3,217.7 332.8,218.6 335.3,219.4 337.8,220.2 340.3,221 342.8,221.9 345.3,222.7 347.8,223.6 350.3,224.5 352.8,224.9 355.3,225.8 357.9,226.5 360.4,227.5 362.9,228.3 365.4,229.2 367.9,229.8 370.4,230.7 372.9,231.7 375.4,232.4 377.9,233.4 380.4,234 382.9,234.8 385.4,235.4 387.9,236.3 390.4,237.1 392.9,237.5 395.4,238.1 397.9,238.8 400.4,239.2 402.9,240 405.4,240.7 407.9,241.6 410.4,242.5 412.9,244 415.4,244.8 417.9,245.6 420.4,246.7 422.9,247.6 425.4,248.5 427.9,249.7 430.4,250.7 432.9,251.5 435.4,252.7 437.9,254.1 440.4,254.8 442.9,255.8 445.4,256.6 448,257.8 450.5,259 453,260.3 455.5,261.6 458,263 460.5,264.8 463,266.9 465.5,269.2 468,271.3 470.5,273.1 473,274.8 475.5,276.8 478,278.8 480.5,280.4 483,282.1 485.5,284.1 488,286 490.5,287.9 493,290 495.5,291.7 498,293.4 500.5,295.3 503,296.9 505.5,298.3 508,299.6 510.5,300.9 513,302.2 515.5,303.7 518,305.4 520.5,306.9 523,308.6 525.5,310.6 528,312.4 530.5,314.1 533,316.3 535.5,317.9 538.1,319.5 540.6,321.5 543.1,323.3 545.6,325.1 548.1,327 550.6,328.6 553.1,330.2 555.6,331.8 558.1,333.3 560.6,334.5 563.1,335.9 565.6,337.4 568.1,338.9 570.6,340.4 573.1,341.8 575.6,342.9 578.1,344.1 580.6,345.4 583.1,346.6 585.6,347.5 588.1,348.7 590.6,349.8 593.1,350.9 595.6,352.2 598.1,353.3 600.6,354.2 603.1,355.6 605.6,357.1 608.1,358.2 610.6,359.6 613.1,360.7 615.6,362 618.1,363.1 620.6,364.3 623.1,365.5 625.6,366 628.2,366.9 630.7,367.7 633.2,368.3 635.7,369 638.2,369.7 640.7,370 643.2,370.7 645.7,371.4 648.2,371.8 650.7,372 653.2,372.3 655.7,372.7 658.2,373.1 660.7,373.6 663.2,374 665.7,374.3 668.2,374.6 670.7,375 673.2,375 675.7,375.2 678.2,375.4 680.7,375.2 683.2,375.4 685.7,375.5 688.2,375.5 690.7,375.3 693.2,375.3 695.7,375.1 698.2,374.9 700.7,374.9 703.2,374.6 705.7,374.2 708.2,374.3 710.7,373.4 713.2,371.9 715.7,370.1 718.2,368.6 720.8,366.7 723.3,365.5 725.8,364.3 728.3,362.7 730.8,361 733.3,359.5 735.8,357.5 738.3,355.5 740.8,353.6 743.3,351.3 745.8,348.9 748.3,347.2 750.8,344.9 753.3,342.7 755.8,340.5 758.3,338.2 760.8,335.5 763.3,333.1 765.8,330.4 768.3,327.6 770.8,324.9 773.3,322.4 775.8,319.8 778.3,317.5 780.8,315.1 783.3,312.7 785.8,310.4 788.3,308.5 790.8,306.3 793.3,304.5 795.8,302.6 798.3,301.3 800.8,300 803.3,298.8 805.8,297.6 808.3,296.3 810.9,294.9 813.4,294.1 815.9,292.7 818.4,291.6 820.9,290.7 823.4,289.3 825.9,288 828.4,287.4 830.9,286.3 833.4,285.1 835.9,283.8 838.4,282.7 840.9,281.6 843.4,280.5 845.9,279.1 848.4,277.8 850.9,276.3 853.4,275.2 855.9,273.5 858.4,271.9 860.9,270.3 863.4,268.7 865.9,267.1 868.4,265.8 870.9,264.3 873.4,262.7 875.9,261.2 878.4,260 880.9,258.2 883.4,256.8 885.9,255.3 888.4,253.6 890.9,252.1 893.4,250.8 895.9,249.1 898.4,247.5 901,245.7 903.5,244.2 906,242.4 908.5,241.2 911,239.9 913.5,238.4 916,237.6 918.5,236.6 921,235.2 923.5,234.3 926,233.2 928.5,232.1 931,231.1 933.5,230.5 936,229.4 938.5,228.5 941,227.7 943.5,227.2 946,226.3" stroke="#dc7d75" stroke-width="1.15"/>
<path d="M37.5,308.9 40,312 42.5,315.2 45,318 47.5,321 50,324.1 52.5,327.1 55,329.8 57.5,332.7 60,335.5 62.5,338.3 65,341.1 67.5,343.5 70,345.9 72.5,348.2 75,350.7 77.5,352.6 80,355.2 82.5,357.3 85.1,359.5 87.6,361.7 90.1,364.1 92.6,366.1 95.1,368 97.6,369.9 100.1,371.8 102.6,373.3 105.1,375.3 107.6,376.8 110.1,378.4 112.6,380 115.1,381.7 117.6,383 120.1,384.6 122.6,385.9 125.1,387.1 127.6,388.1 130.1,389.4 132.6,390.1 135.1,391.1 137.6,391.7 140.1,392.3 142.6,392.9 145.1,393.7 147.6,393.9 150.1,394.3 152.6,394.7 155.1,395.3 157.6,395.5 160.1,396 162.6,396 165.1,396 167.6,395.9 170.1,395.8 172.6,395 175.2,394.3 177.7,393.5 180.2,393 182.7,392.3 185.2,391.9 187.7,391.1 190.2,390 192.7,389.2 195.2,388.3 197.7,387 200.2,385.6 202.7,384.4 205.2,383.1 207.7,381.9 210.2,380.7 212.7,378.9 215.2,377 217.7,375.5 220.2,373.8 222.7,372 225.2,370.4 227.7,368.5 230.2,366.8 232.7,365.2 235.2,363.6 237.7,361.7 240.2,360.1 242.7,358.5 245.2,357 247.7,355.5 250.2,354.1 252.7,352.2 255.2,350.4 257.7,348.7 260.2,346.9 262.7,344.9 265.3,343 267.8,340.9 270.3,338.8 272.8,336.8 275.3,334.8 277.8,332.4 280.3,330.3 282.8,328.1 285.3,325.7 287.8,323.3 290.3,321.2 292.8,318.7 295.3,316.5 297.8,314.5 300.3,312.5 302.8,310.2 305.3,308.3 307.8,306.1 310.3,304 312.8,302.2 315.3,300 317.8,297.9 320.3,295.9 322.8,294.1 325.3,291.9 327.8,289.8 330.3,287.7 332.8,285.5 335.3,283.6 337.8,281.5 340.3,279.7 342.8,277.6 345.3,275.7 347.8,273.6 350.3,271.8 352.8,269.9 355.3,267.8 357.9,265.6 360.4,263.9 362.9,262.1 365.4,260 367.9,258 370.4,255.8 372.9,253.6 375.4,251.3 377.9,249.2 380.4,246.8 382.9,244.5 385.4,242.5 387.9,240.4 390.4,238.4 392.9,236.5 395.4,234.6 397.9,232.5 400.4,230.8 402.9,229 405.4,227 407.9,225.5 410.4,224 412.9,222.1 415.4,220.4 417.9,218.9 420.4,217 422.9,215.3 425.4,213.7 427.9,212.1 430.4,210.5 432.9,209.1 435.4,207.4 437.9,205.7 440.4,204.1 442.9,202.5 445.4,200.5 448,198.8 450.5,196.8 453,195 455.5,193.4 458,191.7 460.5,189.4 463,187.4 465.5,185.6 468,184 470.5,182.2 473,180.8 475.5,179.3 478,177.8 480.5,176.6 483,175.2 485.5,173.6 488,172 490.5,170.5 493,169 495.5,167.5 498,166.1 500.5,164.5 503,163.2 505.5,162 508,160.8 510.5,159.2 513,157.9 515.5,156.3 518,155.2 520.5,154 523,152.9 525.5,151.6 528,150.4 530.5,149.5 533,148.2 535.5,147.3 538.1,146.1 540.6,144.8 543.1,143.9 545.6,143.1 548.1,142.2 550.6,141.3 553.1,140.3 555.6,139.2 558.1,138.3 560.6,137.2 563.1,136.1 565.6,135 568.1,134 570.6,133.1 573.1,132.2 575.6,131.1 578.1,130.3 580.6,129.1 583.1,128.3 585.6,127.4 588.1,126.4 590.6,125.7 593.1,124.9 595.6,124.1 598.1,123.4 600.6,122.7 603.1,122 605.6,121 608.1,120.4 610.6,119.8 613.1,119 615.6,118.2 618.1,117.7 620.6,117 623.1,116.4 625.6,116 628.2,115.2 630.7,114.4 633.2,113.9 635.7,113.2 638.2,112.7 640.7,112.3 643.2,111.8 645.7,111.1 648.2,111 650.7,110.4 653.2,109.9 655.7,109.4 658.2,109 660.7,108.9 663.2,108.6 665.7,108.3 668.2,108.1 670.7,107.4 673.2,107.2 675.7,106.6 678.2,106.1 680.7,105.5 683.2,105.2 685.7,104.6 688.2,104.4 690.7,104.2 693.2,103.7 695.7,103.3 698.2,103.2 700.7,102.8 703.2,103.1 705.7,103.3 708.2,103.4 710.7,103.7 713.2,104.2 715.7,104.6 718.2,104.8 720.8,105.3 723.3,105.5 725.8,105.8 728.3,106.3 730.8,106.7 733.3,107 735.8,107.5 738.3,108 740.8,108.4 743.3,108.9 745.8,109.3 748.3,109.7 750.8,110.3 753.3,111.3 755.8,111.9 758.3,112.7 760.8,113.3 763.3,114.2 765.8,114.8 768.3,115.9 770.8,116.6 773.3,117.2 775.8,118.1 778.3,119.4 780.8,119.9 783.3,120.9 785.8,121.7 788.3,122.7 790.8,123.6 793.3,124.8 795.8,125.7 798.3,126.9 800.8,128 803.3,129.5 805.8,130.7 808.3,132.3 810.9,133.4 813.4,135.1 815.9,136.5 818.4,138.5 820.9,140.2 823.4,142.4 825.9,144.5 828.4,146.8 830.9,149 833.4,151.5 835.9,153.5 838.4,155.9 840.9,158.3 843.4,160.8 845.9,163.3 848.4,165.9 850.9,168.5 853.4,171.1 855.9,173.8 858.4,176.7 860.9,179.3 863.4,182.3 865.9,184.9 868.4,187.8 870.9,190.5 873.4,193.6 875.9,196.3 878.4,199.5 880.9,202.8 883.4,206.1 885.9,209.3 888.4,212.9 890.9,216.3 893.4,220 895.9,223.7 898.4,227.5 901,230.5 903.5,233.8 906,236.9 908.5,240.4 911,244.7 913.5,250.1 916,254.5 918.5,259.1 921,263.7 923.5,268.8 926,273.7 928.5,278.7 931,282.8 933.5,286.2 936,290.3 938.5,294.4 941,298.1 943.5,302.3 946,306.2" stroke="#5a8fc8" stroke-width="1.15"/>
<path d="M37.5,357 40,360.3 42.5,363.6 45,367 47.5,369.6 50,372.1 52.5,374.6 55,376.8 57.5,379 60,381.6 62.5,383.8 65,386 67.5,388.2 70,390.5 72.5,392.3 75,393.9 77.5,395.5 80,396.7 82.5,397.8 85.1,399.2 87.6,400.4 90.1,401.6 92.6,402.7 95.1,403.8 97.6,404.4 100.1,405.7 102.6,406.7 105.1,407.6 107.6,408.5 110.1,409.5 112.6,410.5 115.1,411.6 117.6,412.5 120.1,413.2 122.6,413.7 125.1,414.9 127.6,415.5 130.1,416.1 132.6,416.9 135.1,417.7 137.6,418.3 140.1,419.2 142.6,419.8 145.1,419.9 147.6,420.3 150.1,420.8 152.6,421.1 155.1,421.5 157.6,421.6 160.1,421.8 162.6,422 165.1,422.2 167.6,422.3 170.1,422.2 172.6,422.3 175.2,422.4 177.7,422.2 180.2,422.4 182.7,422 185.2,421.2 187.7,420.8 190.2,420.3 192.7,419.4 195.2,418.9 197.7,418.3 200.2,417.6 202.7,416.9 205.2,416.6 207.7,415.3 210.2,414.1 212.7,412.7 215.2,411 217.7,409.5 220.2,408.2 222.7,406.7 225.2,405.1 227.7,403.7 230.2,402.4 232.7,401.1 235.2,399.8 237.7,398.4 240.2,397.1 242.7,395.9 245.2,394.8 247.7,393.2 250.2,391.8 252.7,390.2 255.2,388.9 257.7,387.2 260.2,385.6 262.7,383.9 265.3,381.8 267.8,380.5 270.3,379 272.8,377.2 275.3,375.7 277.8,374.1 280.3,372.5 282.8,370.8 285.3,369.2 287.8,367.3 290.3,365.5 292.8,364.1 295.3,362.4 297.8,360.5 300.3,358.6 302.8,356.5 305.3,354.2 307.8,352.1 310.3,349.9 312.8,347.8 315.3,345.4 317.8,343.5 320.3,341.5 322.8,339.3 325.3,337.3 327.8,335 330.3,332.8 332.8,330.8 335.3,328.5 337.8,326.4 340.3,324.2 342.8,322.2 345.3,320 347.8,318 350.3,316 352.8,313.6 355.3,311.6 357.9,309.4 360.4,307.5 362.9,305.4 365.4,303.3 367.9,300.9 370.4,298.7 372.9,296.4 375.4,293.8 377.9,291.5 380.4,288.8 382.9,286.5 385.4,283.9 387.9,282 390.4,279.9 392.9,277.8 395.4,275.9 397.9,274.3 400.4,272.3 402.9,270.7 405.4,269 407.9,267.3 410.4,265.6 412.9,264.4 415.4,262.5 417.9,260.5 420.4,259 422.9,257.2 425.4,255.4 427.9,253.9 430.4,252.2 432.9,250.3 435.4,248.6 437.9,247.2 440.4,244.9 442.9,242.8 445.4,240.3 448,238 450.5,235.6 453,233.4 455.5,231.1 458,229.1 460.5,227.2 463,225.3 465.5,223.3 468,221.4 470.5,219.1 473,216.9 475.5,215.1 478,213.5 480.5,211.5 483,209.6 485.5,208.1 488,206.4 490.5,204.7 493,203.2 495.5,201.4 498,199.5 500.5,198.1 503,196.5 505.5,194.9 508,193 510.5,190.9 513,188.7 515.5,186.7 518,184.9 520.5,183 523,181.5 525.5,180.2 528,178.7 530.5,177.1 533,176 535.5,174.4 538.1,172.9 540.6,171.8 543.1,170.6 545.6,169.4 548.1,168.4 550.6,167.3 553.1,166.2 555.6,165.4 558.1,164.4 560.6,163.2 563.1,162.3 565.6,161.4 568.1,160.6 570.6,159.9 573.1,159 575.6,157.8 578.1,156.9 580.6,156 583.1,155.2 585.6,154 588.1,153.3 590.6,152.5 593.1,151.7 595.6,151 598.1,150.2 600.6,149 603.1,148 605.6,147.2 608.1,146.1 610.6,145.5 613.1,144.5 615.6,143.6 618.1,142.8 620.6,142.1 623.1,141.5 625.6,140.5 628.2,139.9 630.7,139.3 633.2,138.7 635.7,138.4 638.2,138 640.7,137.4 643.2,137.1 645.7,137 648.2,136.5 650.7,136.1 653.2,135.6 655.7,135.3 658.2,135.1 660.7,135 663.2,134.8 665.7,134.4 668.2,134.2 670.7,134 673.2,133.7 675.7,133.5 678.2,133.5 680.7,133.2 683.2,133.5 685.7,133.6 688.2,133.7 690.7,133.6 693.2,133.7 695.7,133.8 698.2,133.8 700.7,134 703.2,134.1 705.7,134 708.2,134.6 710.7,134.9 713.2,135.1 715.7,135.2 718.2,135.5 720.8,135.3 723.3,135.6 725.8,136 728.3,136.2 730.8,136.3 733.3,136.8 735.8,136.9 738.3,137.3 740.8,137.8 743.3,138 745.8,138 748.3,138.8 750.8,139.2 753.3,139.8 755.8,140.5 758.3,141.1 760.8,141.7 763.3,142.6 765.8,143.3 768.3,143.9 770.8,144.5 773.3,145.3 775.8,146.1 778.3,147.1 780.8,147.9 783.3,148.7 785.8,149.5 788.3,150.7 790.8,151.4 793.3,152.4 795.8,153.2 798.3,154.5 800.8,155.7 803.3,157.1 805.8,158.4 808.3,159.6 810.9,160.8 813.4,162.5 815.9,163.7 818.4,165.3 820.9,167.3 823.4,169.1 825.9,171.3 828.4,174.4 830.9,177 833.4,179.4 835.9,181.6 838.4,184 840.9,186.5 843.4,189.6 845.9,193 848.4,197.1 850.9,201.1 853.4,205.8 855.9,209.4 858.4,212.9 860.9,216.2 863.4,219.6 865.9,222.8 868.4,226.4 870.9,229.8 873.4,233.3 875.9,237 878.4,241 880.9,244.6 883.4,248.8 885.9,253 888.4,257.2 890.9,261.9 893.4,267.1 895.9,272.1 898.4,278.2 901,284.5 903.5,290.1 906,293.6 908.5,297.2 911,301.3 913.5,305.5 916,310.6 918.5,315.6 921,320.1 923.5,325.3 926,328.5 928.5,331.2 931,333.8 933.5,337 936,339.8 938.5,342.5 941,345.4 943.5,348.4 946,351.0" stroke="#5a8fc8" stroke-width="1.15"/>
<path d="M37,232.9 39.5,232.1 42,230.8 44.5,229.8 47,228.8 49.5,228.2 52,226.8 54.5,226.2 57,225.1 59.5,224.2 62,223.4 64.5,222.6 67,220.8 69.5,220 72,219.1 74.5,218.3 77,217.1 79.5,216.6 82,215.7 84.4,215.2 86.9,214.7 89.4,214.3 91.9,213.3 94.4,213.2 96.9,213.1 99.4,212.9 101.9,212.8 104.4,212.9 106.9,212.4 109.4,213.9 111.9,215.6 114.4,215.4 116.9,214.6 119.4,214.7 121.9,214 124.4,213.8 126.9,213.5 129.4,213.1 131.9,212 134.4,211.7 136.9,211 139.4,210.2 141.9,208.8 144.4,206.8 146.9,204.4 149.4,203.2 151.9,203.2 154.4,203.3 156.9,203.2 159.4,204 161.9,204.2 164.4,205 166.9,205.5 169.4,206.1 171.9,206 174.3,206.8 176.8,207 179.3,207 181.8,206.8 184.3,206.5 186.8,205.8 189.3,205.2 191.8,204.3 194.3,203.8 196.8,202.4 199.3,202.4 201.8,201.8 204.3,201.1 206.8,200.6 209.3,200.2 211.8,199.6 214.3,199.5 216.8,199.3 219.3,198.9 221.8,198.5 224.3,198.3 226.8,197.9 229.3,198 231.8,198.3 234.3,198.7 236.8,198.9 239.3,200.3 241.8,201.2 244.3,202 246.8,202.9 249.3,203.3 251.8,203.4 254.3,203.9 256.8,204.2 259.3,204.4 261.8,204.4 264.2,205 266.7,205.5 269.2,206.6 271.7,207.8 274.2,208.4 276.7,208.9 279.2,210.5 281.7,211.4 284.2,212.2 286.7,212.6 289.2,213.3 291.7,212.7 294.2,213.1 296.7,213.1 299.2,212.8 301.7,212.8 304.2,213.2 306.7,213.7 309.2,215 311.7,216.3 314.2,217.1 316.7,216.6 319.2,217.1 321.7,217.1 324.2,216.9 326.7,216.9 329.2,217.1 331.7,218.1 334.2,220.4 336.7,222.6 339.2,224.3 341.7,225.7 344.2,227.6 346.7,228.6 349.2,229.8 351.7,231.1 354.2,232.2 356.6,233.3 359.1,234.9 361.6,235.9 364.1,236.6 366.6,237.8 369.1,239.3 371.6,240.5 374.1,242.1 376.6,243.3 379.1,243.9 381.6,244.5 384.1,245.7 386.6,246.1 389.1,246.7 391.6,247.5 394.1,248.3 396.6,249.3 399.1,250.6 401.6,251.3 404.1,252.1 406.6,253.3 409.1,254.8 411.6,255.9 414.1,256.6 416.6,256.7 419.1,256.7 421.6,256.7 424.1,257.3 426.6,257.1 429.1,257.1 431.6,257.7 434.1,258.9 436.6,259.8 439.1,261.3 441.6,262.4 444.1,263.8 446.5,266 449,268.2 451.5,270.1 454,271.9 456.5,273.7 459,275.2 461.5,276.8 464,278.4 466.5,279.7 469,280.6 471.5,282.2 474,283.8 476.5,285.7 479,288 481.5,289.7 484,291.4 486.5,293.4 489,295.5 491.5,297 494,298.8 496.5,300.5 499,302.2 501.5,304.3 504,306.9 506.5,308.7 509,310.7 511.5,312.7 514,314.8 516.5,316.9 519,319.4 521.5,321.8 524,324.5 526.5,327.6 529,330.2 531.5,332.5 534,334.7 536.5,337.1 538.9,339 541.4,340.9 543.9,343.2 546.4,344.2 548.9,345.2 551.4,346.2 553.9,346.9 556.4,347.1 558.9,347.8 561.4,348.3 563.9,348.9 566.4,349.6 568.9,350.6 571.4,351.6 573.9,354 576.4,356.8 578.9,358.8 581.4,360.4 583.9,362.4 586.4,364.4 588.9,366.6 591.4,368.4 593.9,369.4 596.4,369.9 598.9,371 601.4,372.5 603.9,374 606.4,375.8 608.9,377.3 611.4,378.1 613.9,379.4 616.4,380.7 618.9,382.1 621.4,383.7 623.9,385.4 626.4,386.8 628.8,388.4 631.3,390.3 633.8,391.4 636.3,391.7 638.8,392.4 641.3,393 643.8,393.7 646.3,394.7 648.8,395.6 651.3,396 653.8,396.6 656.3,397.4 658.8,397.5 661.3,397.5 663.8,397.8 666.3,397.5 668.8,397.6 671.3,398.3 673.8,398.5 676.3,398.6 678.8,398.7 681.3,398.7 683.8,398.3 686.3,398.2 688.8,397.8 691.3,396.8 693.8,396.2 696.3,395.8 698.8,394.9 701.3,393.8 703.8,393.1 706.3,392.3 708.8,391.1 711.3,390.7 713.8,389.6 716.3,388.5 718.8,387.5 721.2,386.7 723.7,385.2 726.2,384.2 728.7,382.8 731.2,380.9 733.7,379.5 736.2,378.1 738.7,376 741.2,373.7 743.7,372.1 746.2,370.1 748.7,368.3 751.2,367 753.7,365.3 756.2,363.9 758.7,362.9 761.2,362.9 763.7,362.4 766.2,362.4 768.7,362 771.2,361.3 773.7,360.2 776.2,358.5 778.7,356.1 781.2,353.5 783.7,351.2 786.2,348.1 788.7,344.2 791.2,340.7 793.7,336.5 796.2,331.7 798.7,328 801.2,324.6 803.7,321.2 806.2,318.9 808.7,316.8 811.1,314.6 813.6,311.7 816.1,309.1 818.6,306.3 821.1,303.9 823.6,302.1 826.1,301.1 828.6,300.1 831.1,299.5 833.6,299.3 836.1,299.9 838.6,301.3 841.1,302.7 843.6,302.2 846.1,300.3 848.6,297.3 851.1,295 853.6,293.6 856.1,292.2 858.6,290.5 861.1,288.8 863.6,287.2 866.1,285.1 868.6,282.2 871.1,279.5 873.6,276 876.1,273.1 878.6,270.9 881.1,269.7 883.6,268.1 886.1,267.1 888.6,266.5 891.1,265.5 893.6,264.7 896.1,263.9 898.6,262.6 901,261.4 903.5,259.5 906,257.4 908.5,254.8 911,252.7 913.5,250.6 916,249.4 918.5,248.8 921,248.5 923.5,247.5 926,247.1 928.5,246.7 931,245.7 933.5,244.6 936,242.9 938.5,240.5 941,238.4 943.5,236.5 946,234.1" stroke="#e0757a" stroke-width="1.25" stroke-dasharray="5 3.8" stroke-linecap="butt"/>
<path d="M37.5,375.2 40,377.5 42.5,380.3 45,382.2 47.5,384.5 50,386.5 52.5,388.7 55,390.5 57.5,392.2 60,393.7 62.5,395.3 65,396.7 67.5,398.1 70,399 72.5,400.1 75,401.6 77.5,403.2 80,405 82.5,406.7 85,407.7 87.5,409.2 90.1,410.5 92.6,411.7 95.1,412.5 97.6,413.5 100.1,414.4 102.6,415.6 105.1,416.6 107.6,417.7 110.1,418.2 112.6,418.8 115.1,419.7 117.6,420.5 120.1,421.1 122.6,421.9 125.1,422.1 127.6,422.7 130.1,423.4 132.6,423.8 135.1,423.7 137.6,424.2 140.1,424.3 142.6,424.6 145.1,424.9 147.6,425.5 150.1,425.7 152.6,426.3 155.1,427 157.6,427 160.1,426.9 162.6,426.6 165.1,426 167.6,426 170.1,426 172.6,425.9 175.1,425.4 177.6,425.4 180.1,425.2 182.6,424.9 185.1,424.3 187.6,423.9 190.2,422.9 192.7,422.4 195.2,422.3 197.7,421.8 200.2,421 202.7,420.5 205.2,419.6 207.7,418.8 210.2,417.9 212.7,416.9 215.2,415.6 217.7,414.9 220.2,414 222.7,413.1 225.2,412 227.7,410.7 230.2,409.6 232.7,408.5 235.2,407.7 237.7,406.6 240.2,405.3 242.7,404.6 245.2,403.5 247.7,402.9 250.2,402 252.7,401 255.2,399.6 257.7,398.2 260.2,395.3 262.7,392.3 265.2,389.8 267.7,386.9 270.2,383.7 272.7,381.4 275.2,379.5 277.7,377.6 280.2,375.9 282.7,374.7 285.2,373.7 287.7,372.6 290.3,371.5 292.8,370.3 295.3,369 297.8,368.3 300.3,367.3 302.8,365 305.3,362 307.8,359.5 310.3,357.1 312.8,355.4 315.3,353.2 317.8,351 320.3,348.6 322.8,346.6 325.3,344.1 327.8,341.7 330.3,339.3 332.8,336.9 335.3,334.6 337.8,332.6 340.3,330.5 342.8,328.1 345.3,325.8 347.8,323.8 350.3,321.6 352.8,319.7 355.3,317.6 357.8,315.5 360.3,313.5 362.8,311.9 365.3,310.2 367.8,308.5 370.3,306.8 372.8,305.5 375.3,304.1 377.8,303 380.3,302.2 382.8,300.7 385.3,299.1 387.8,296.7 390.4,293.8 392.9,291.3 395.4,289.3 397.9,288.5 400.4,288.3 402.9,288.4 405.4,287.6 407.9,285.6 410.4,282.8 412.9,279.7 415.4,276.6 417.9,274 420.4,271 422.9,269.2 425.4,268 427.9,267.3 430.4,266.5 432.9,265.6 435.4,264.6 437.9,263 440.4,260.9 442.9,258.9 445.4,256.8 447.9,255.5 450.4,255.1 452.9,254.6 455.4,253.1 457.9,249.9 460.4,247.5 462.9,246.3 465.4,245.5 467.9,244.9 470.4,243.7 472.9,242.8 475.4,242 477.9,241.2 480.4,240.1 482.9,238.5 485.4,236.3 487.9,234.6 490.5,233.5 493,232.8 495.5,232.6 498,232.4 500.5,232 503,230.3 505.5,228.1 508,224.9 510.5,221.6 513,219.6 515.5,218.1 518,216.9 520.5,214.9 523,212.2 525.5,209.3 528,206.5 530.5,205.2 533,203.7 535.5,202.5 538,201.2 540.5,200.5 543,199.8 545.5,199.4 548,198.5 550.5,196.7 553,194.4 555.5,192.2 558,190.5 560.5,189.2 563,188.2 565.5,187.5 568,187 570.5,186.9 573,186.5 575.5,185.6 578,184.8 580.5,183.9 583,183.5 585.5,183.8 588,184 590.5,183.9 593.1,183.8 595.6,183.5 598.1,182.6 600.6,181 603.1,175.8 605.6,172.2 608.1,171.5 610.6,171.4 613.1,171.1 615.6,170.4 618.1,168.7 620.6,166.9 623.1,165 625.6,163.6 628.1,162.5 630.6,161.5 633.1,160.9 635.6,160.4 638.1,159.5 640.6,158.4 643.1,157.1 645.6,154.5 648.1,152.2 650.6,150.5 653.1,149.8 655.6,148.7 658.1,148 660.6,147.8 663.1,147.7 665.6,147.8 668.1,147.8 670.6,147.6 673.1,148 675.6,148.4 678.1,148.7 680.6,149.1 683.1,149.8 685.6,150.4 688.1,150.8 690.6,151.7 693.2,152.1 695.7,152.7 698.2,153.4 700.7,154.2 703.2,154.5 705.7,154.6 708.2,153.8 710.7,152.6 713.2,151.4 715.7,151 718.2,150.5 720.7,150.7 723.2,151 725.7,151.6 728.2,152.2 730.7,153.1 733.2,153.7 735.7,154.1 738.2,155.4 740.7,157.2 743.2,158.4 745.7,160 748.2,161.5 750.7,162.5 753.2,162.9 755.7,162.9 758.2,162.8 760.7,162.7 763.2,163.7 765.7,165.6 768.2,166.9 770.7,167.1 773.2,166.7 775.7,166.5 778.2,166.4 780.7,166.4 783.2,166.4 785.7,167.3 788.2,168.3 790.7,169.4 793.3,171.3 795.8,173 798.3,174.1 800.8,175.3 803.3,176.4 805.8,177.4 808.3,178.1 810.8,178.9 813.3,179.2 815.8,180 818.3,181.2 820.8,182.9 823.3,184.8 825.8,187.5 828.3,190.1 830.8,193.5 833.3,197.4 835.8,202.2 838.3,208.4 840.8,211.1 843.3,212.6 845.8,214.4 848.3,216.2 850.8,218.3 853.3,220.7 855.8,223.4 858.3,227.3 860.8,231.2 863.3,234.3 865.8,238 868.3,241.8 870.8,246.4 873.3,252.4 875.8,256.6 878.3,259.4 880.8,262.3 883.3,266.4 885.8,273.5 888.3,279 890.8,282.1 893.4,284.3 895.9,287.1 898.4,292.1 900.9,297.6 903.4,302.4 905.9,305.7 908.4,309.2 910.9,312.8 913.4,316.5 915.9,320.2 918.4,323.8 920.9,327.7 923.4,331.7 925.9,335.4 928.4,339.2 930.9,343.3 933.4,347.5 935.9,352.8 938.4,358.1 940.9,363.8 943.4,369.3" stroke="#1d3a66" stroke-width="1.25" stroke-dasharray="5 3.8" stroke-linecap="butt"/>
<path d="M37,231.2 39,232.5 41,232.6 43,233.1 45,232.7 47,232.4 49,230.4 51,227.9 53,226.6 55,225 57,223.6 59,222.2 61,221.4 63,221.3 65,220.7 67,220.6 69,221.5 71,220.8 73,220.4 75,219 77,218.7 79,218.1 81,216.3 83.1,215.5 85.1,214.1 87.1,213.5 89.1,212.6 91.1,211.8 93.1,212.7 95.1,212.4 97.1,212.5 99.1,211.9 101.1,211.4 103.1,211.8 105.1,210.9 107.1,211.3 109.1,211.7 111.1,211.8 113.1,213.5 115.1,213.6 117.1,214 119.1,214.9 121.1,213.5 123.1,213.5 125.1,212.6 127.1,212.1 129.1,211.8 131.1,210.7 133.1,211.4 135.1,210.5 137.1,210.2 139.1,208.5 141.1,207.2 143.1,206.7 145.1,205.4 147.1,203.1 149.1,202 151.1,202.3 153.1,202.7 155.1,203 157.1,204 159.1,205 161.1,205.1 163.1,205.7 165.1,204.6 167.1,205.4 169.1,205.4 171.1,205.3 173.1,205.9 175.2,205.9 177.2,205.8 179.2,205.5 181.2,205 183.2,206.8 185.2,205.6 187.2,205.1 189.2,204.5 191.2,202.9 193.2,202.7 195.2,201.7 197.2,201.4 199.2,201.5 201.2,200 203.2,200.1 205.2,199.5 207.2,199.9 209.2,199.9 211.2,199.4 213.2,199.7 215.2,199.2 217.2,198.6 219.2,197.7 221.2,197.3 223.2,198.9 225.2,198 227.2,197.2 229.2,197.5 231.2,197.2 233.2,197.7 235.2,196.8 237.2,197.5 239.2,199.2 241.2,199.4 243.2,200 245.2,200.1 247.2,201.6 249.2,202.6 251.2,202.8 253.2,203.5 255.2,203.6 257.2,203.6 259.2,203.5 261.2,203.2 263.2,204.9 265.3,203.9 267.3,203.9 269.3,203.9 271.3,203.7 273.3,205 275.3,204.8 277.3,205.4 279.3,206 281.3,204.8 283.3,204.6 285.3,204.4 287.3,205.5 289.3,205.5 291.3,204.5 293.3,205.9 295.3,206.1 297.3,206.7 299.3,207.1 301.3,206.7 303.3,207.4 305.3,206.6 307.3,206.2 309.3,206.3 311.3,206.6 313.3,207.2 315.3,207.3 317.3,208.2 319.3,208.9 321.3,208.9 323.3,209.7 325.3,209.9 327.3,211.7 329.3,211.9 331.3,211.8 333.3,212.8 335.3,213.1 337.3,213.6 339.3,214.8 341.3,215.8 343.3,218 345.3,217.6 347.3,218.2 349.3,219.1 351.3,219.7 353.3,222 355.4,221.4 357.4,222.1 359.4,223.7 361.4,223.2 363.4,225.2 365.4,227.2 367.4,229.8 369.4,232.1 371.4,231.9 373.4,232.6 375.4,232.1 377.4,232.5 379.4,233 381.4,233.7 383.4,235 385.4,234.9 387.4,235.1 389.4,235.8 391.4,236.7 393.4,237.6 395.4,237.8 397.4,239.2 399.4,241 401.4,241.6 403.4,243 405.4,244.3 407.4,246.2 409.4,247.4 411.4,247.6 413.4,249.1 415.4,249.4 417.4,251.1 419.4,251.6 421.4,252.1 423.4,253.8 425.4,254.2 427.4,255.4 429.4,256.8 431.4,258 433.4,259.4 435.4,259.4 437.4,260.6 439.4,261.4 441.4,262 443.4,263.4 445.4,264.3 447.5,266.7 449.5,266.9 451.5,267.8 453.5,269.3 455.5,270.8 457.5,272.8 459.5,273.9 461.5,275.1 463.5,276.8 465.5,277.1 467.5,278.5 469.5,280.2 471.5,282.3 473.5,283.7 475.5,284.5 477.5,285.3 479.5,287.7 481.5,289 483.5,291 485.5,292.7 487.5,294.6 489.5,295.2 491.5,295.8 493.5,298.5 495.5,299.2 497.5,301 499.5,302.1 501.5,303.7 503.5,306.2 505.5,307.4 507.5,309.2 509.5,310 511.5,310.5 513.5,311.4 515.5,311.2 517.5,312.2 519.5,314.1 521.5,315.3 523.5,317.7 525.5,319.7 527.5,320.9 529.5,322.4 531.5,323.5 533.5,325.7 535.5,327.4 537.6,328.7 539.6,329 541.6,330 543.6,330.9 545.6,331.1 547.6,333.3 549.6,335.1 551.6,337 553.6,338.7 555.6,339.4 557.6,340.5 559.6,342.3 561.6,342.8 563.6,343.9 565.6,345.6 567.6,347.2 569.6,348.7 571.6,349 573.6,351.1 575.6,351.7 577.6,352.5 579.6,351.5 581.6,351.9 583.6,353.1 585.6,353.7 587.6,355.1 589.6,356.4 591.6,356.6 593.6,357.8 595.6,357.5 597.6,358.4 599.6,359.7 601.6,360.5 603.6,362.1 605.6,362.8 607.6,363.4 609.6,363.9 611.6,364.2 613.6,366 615.6,366.6 617.6,367.8 619.6,367.5 621.6,368.7 623.6,370.1 625.6,369.8 627.6,370.9 629.7,371.8 631.7,372.5 633.7,372.3 635.7,371.3 637.7,370.8 639.7,370.9 641.7,371.2 643.7,373.2 645.7,373.6 647.7,375 649.7,374.9 651.7,375.4 653.7,376.9 655.7,376.6 657.7,377.4 659.7,376.5 661.7,377.1 663.7,377.7 665.7,377.5 667.7,376.7 669.7,376.1 671.7,375.5 673.7,374.7 675.7,373.4 677.7,374.6 679.7,375.1 681.7,374.2 683.7,374.3 685.7,373.6 687.7,373.7 689.7,373.8 691.7,373.9 693.7,374.1 695.7,373 697.7,372.9 699.7,371.8 701.7,371.6 703.7,371.6 705.7,370.4 707.7,369.3 709.7,369 711.7,368.1 713.7,367 715.7,364.5 717.7,365 719.8,363.8 721.8,363.7 723.8,363.3 725.8,360.7 727.8,357.8 729.8,356.5 731.8,356.2 733.8,356.7 735.8,356 737.8,355.1 739.8,354.2 741.8,353.5 743.8,353.5 745.8,351.7 747.8,352 749.8,351.8 751.8,352.3 753.8,352.5 755.8,351.2 757.8,351.3 759.8,349.7 761.8,347.9 763.8,345.8 765.8,343.8 767.8,342.2 769.8,339.8 771.8,336.5 773.8,335.2 775.8,332 777.8,330.1 779.8,328.1 781.8,326.1 783.8,325 785.8,322.4 787.8,321.2 789.8,319.6 791.8,319.9 793.8,319.8 795.8,316.3 797.8,316.3 799.8,316.5 801.8,315.8 803.8,316.1 805.8,316.1 807.8,316.1 809.9,313 811.9,310.5 813.9,308.8 815.9,306.4 817.9,304.8 819.9,302.4 821.9,301.2 823.9,300.7 825.9,299.1 827.9,298.6 829.9,298 831.9,297.2 833.9,297.2 835.9,296.2 837.9,296.7 839.9,295.5 841.9,294.2 843.9,294 845.9,293.6 847.9,294.2 849.9,293.6 851.9,292.6 853.9,292.3 855.9,291 857.9,289.8 859.9,288.5 861.9,287.3 863.9,286.4 865.9,283.7 867.9,281.5 869.9,278.8 871.9,277.2 873.9,274.8 875.9,271.7 877.9,270.7 879.9,269.1 881.9,267.7 883.9,266.9 885.9,266.7 887.9,267.3 889.9,265.7 891.9,265 893.9,264.9 895.9,263.7 897.9,262.5 899.9,261.1 902,260.5 904,259.4 906,256.6 908,254.5 910,253.2 912,251.8 914,250.2 916,248.9 918,248.7 920,248.1 922,247.3 924,247.5 926,246.8 928,246.7 930,244.5 932,240.9 934,238.1 936,235.8 938,234.4 940,232.7 942,232.1 944,232 946,231.4" stroke="#d5291d" stroke-width="3.4"/>
<path d="M37,334.2 39,334.9 41,337.9 43,341 45,344.3 47,347.1 49,349.6 51,351.7 53,352.9 55,355 57,358.1 59,360.9 61,363.7 63,366.2 65,368.6 67,370.7 69,371.9 71,374.9 73,377.9 75,380.4 77,382.7 79,383 81,385.1 83.1,385.2 85.1,386.3 87.1,386.8 89.1,387.8 91.1,389.6 93.1,390 95.1,391.1 97.1,393.5 99.1,395 101.1,396.7 103.1,397.2 105.1,398.8 107.1,400.8 109.1,401.4 111.1,403.9 113.1,405.3 115.1,407.7 117.1,409.6 119.1,411.1 121.1,413.4 123.1,414.8 125.1,415.4 127.1,417 129.1,418.3 131.1,419.3 133.1,419.6 135.1,420.3 137.1,421.2 139.1,421.3 141.1,421.4 143.1,421.5 145.1,422.3 147.1,422.7 149.1,422.6 151.1,422.7 153.1,422.7 155.1,422.7 157.1,422.6 159.1,421.9 161.1,423.3 163.1,422.9 165.1,423.5 167.1,424.7 169.1,424.5 171.1,424.7 173.1,424 175.2,423.7 177.2,424.4 179.2,424.4 181.2,424.6 183.2,424.1 185.2,424.3 187.2,424 189.2,423 191.2,423.4 193.2,422.7 195.2,422.7 197.2,421.7 199.2,421.2 201.2,420.7 203.2,419 205.2,417.4 207.2,415.7 209.2,414.4 211.2,413.8 213.2,411.9 215.2,410.6 217.2,409.8 219.2,407.7 221.2,406 223.2,404.2 225.2,403.4 227.2,402.8 229.2,401.2 231.2,400.7 233.2,399.9 235.2,399.3 237.2,398.9 239.2,397.6 241.2,397.6 243.2,395.8 245.2,394.1 247.2,392.4 249.2,391.2 251.2,389.9 253.2,387.3 255.2,386.4 257.2,384.9 259.2,382.4 261.2,379.8 263.2,376.5 265.3,375.4 267.3,374.2 269.3,372.3 271.3,370.1 273.3,366 275.3,363.8 277.3,363.4 279.3,362.8 281.3,363.2 283.3,361.7 285.3,359.6 287.3,357.7 289.3,356.6 291.3,354.9 293.3,351.9 295.3,350 297.3,348.7 299.3,345.9 301.3,343.9 303.3,341.6 305.3,340 307.3,337.9 309.3,335.2 311.3,333.6 313.3,331.9 315.3,330.5 317.3,329 319.3,327.3 321.3,327 323.3,325.4 325.3,324.4 327.3,323.7 329.3,322.7 331.3,322 333.3,319.5 335.3,318.1 337.3,316.7 339.3,314.3 341.3,312.8 343.3,310.7 345.3,310.5 347.3,310.4 349.3,309.4 351.3,309.7 353.3,307.7 355.4,305.6 357.4,302.7 359.4,299.9 361.4,298.9 363.4,295.9 365.4,294.1 367.4,292.3 369.4,291.3 371.4,290.6 373.4,289 375.4,287.9 377.4,287.4 379.4,286 381.4,285.7 383.4,284 385.4,283.6 387.4,282 389.4,280 391.4,279.1 393.4,277.3 395.4,276 397.4,274 399.4,271.9 401.4,270.9 403.4,268.8 405.4,268.2 407.4,266.9 409.4,266.6 411.4,266.6 413.4,265.2 415.4,264.7 417.4,264.3 419.4,262.7 421.4,261 423.4,258.9 425.4,256.8 427.4,254.4 429.4,252.5 431.4,252.4 433.4,252.2 435.4,252.1 437.4,250.7 439.4,249.2 441.4,248.7 443.4,247.2 445.4,244.9 447.5,243.2 449.5,240.9 451.5,237.6 453.5,233.5 455.5,231.1 457.5,229.2 459.5,227.4 461.5,225.8 463.5,223.2 465.5,222.6 467.5,220.5 469.5,218.5 471.5,217.9 473.5,216.9 475.5,217.3 477.5,216.7 479.5,216.9 481.5,217.4 483.5,215.2 485.5,212.9 487.5,211.1 489.5,208.8 491.5,207.4 493.5,204.2 495.5,202.4 497.5,200.6 499.5,199.3 501.5,199.5 503.5,199.5 505.5,200.3 507.5,200.6 509.5,199.2 511.5,198.5 513.5,197.3 515.5,197.1 517.5,196 519.5,194.6 521.5,195.3 523.5,194.3 525.5,193.9 527.5,193.5 529.5,192.9 531.5,192.6 533.5,190.3 535.5,189.6 537.6,188.6 539.6,186.9 541.6,184.3 543.6,181.5 545.6,180.1 547.6,178.2 549.6,176.4 551.6,175.9 553.6,175.2 555.6,174.8 557.6,174.3 559.6,174.2 561.6,174.9 563.6,174 565.6,171.7 567.6,169.2 569.6,167.5 571.6,167.3 573.6,167.4 575.6,168.9 577.6,169.1 579.6,168.1 581.6,167.1 583.6,165 585.6,165 587.6,164.4 589.6,163.6 591.6,163.4 593.6,162.5 595.6,160.8 597.6,157.3 599.6,157.1 601.6,158.5 603.6,157.6 605.6,157.1 607.6,156.9 609.6,155.4 611.6,155 613.6,154.5 615.6,154.3 617.6,154.5 619.6,152.7 621.6,151 623.6,149.6 625.6,149.7 627.6,149.2 629.7,148.2 631.7,147.6 633.7,146.2 635.7,145.1 637.7,142.6 639.7,141.2 641.7,140.8 643.7,139 645.7,138.1 647.7,137.5 649.7,137.9 651.7,138.7 653.7,138.2 655.7,138.1 657.7,137.7 659.7,136.6 661.7,136 663.7,135 665.7,136.9 667.7,136.7 669.7,136.4 671.7,136.1 673.7,134.2 675.7,133.2 677.7,132.2 679.7,132.7 681.7,133.6 683.7,133.7 685.7,134.1 687.7,134.4 689.7,135.7 691.7,136.3 693.7,135.2 695.7,136.5 697.7,136.6 699.7,138.2 701.7,137.6 703.7,136.7 705.7,137.1 707.7,137.1 709.7,136.5 711.7,137.9 713.7,138.3 715.7,139.3 717.7,139.2 719.8,139.9 721.8,141.1 723.8,140.5 725.8,140.3 727.8,140.3 729.8,140.8 731.8,141.5 733.8,141 735.8,142.2 737.8,142.8 739.8,142.6 741.8,143 743.8,143.3 745.8,144.8 747.8,144.6 749.8,144.9 751.8,146.6 753.8,146.9 755.8,147.7 757.8,148 759.8,149.1 761.8,149.8 763.8,149.4 765.8,149.9 767.8,150.6 769.8,151 771.8,152.1 773.8,152.1 775.8,153.2 777.8,153.8 779.8,154.7 781.8,155.7 783.8,157 785.8,159.2 787.8,160.1 789.8,160.4 791.8,162.4 793.8,163.3 795.8,164.5 797.8,165.7 799.8,167.2 801.8,168.9 803.8,168.8 805.8,170.1 807.8,171 809.9,172.5 811.9,173.3 813.9,174 815.9,175.6 817.9,176.6 819.9,177.4 821.9,178.8 823.9,180.4 825.9,182.9 827.9,184.2 829.9,186 831.9,188.8 833.9,191.2 835.9,193.8 837.9,195.4 839.9,198 841.9,200.9 843.9,202.5 845.9,205.1 847.9,206.9 849.9,210 851.9,212.5 853.9,214.5 855.9,217.3 857.9,219.4 859.9,221.6 861.9,223.6 863.9,226 865.9,229.1 867.9,231.1 869.9,233.4 871.9,236.9 873.9,239.9 875.9,242.9 877.9,245.6 879.9,248.9 881.9,252.3 883.9,253.6 885.9,256 887.9,258.2 889.9,261.1 891.9,262.9 893.9,264.7 895.9,268.5 897.9,272.1 899.9,276.1 902,280.5 904,284.6 906,289.5 908,292.8 910,296 912,299.9 914,302.7 916,306.4 918,308.9 920,312.2 922,315.9 924,318.7 926,321.6 928,324.4 930,327.1 932,328.8 934,329.9 936,332.4 938,334.6 940,337.4 942,339.6 944,342.8 946,346.5" stroke="#0f3463" stroke-width="3.4"/>
</g>
<g stroke="#333" stroke-width="1.5">
<line x1="24.7" x2="959" y1="461.5" y2="461.5"/>
<line x1="37.6" x2="37.6" y1="461.5" y2="467.4" stroke-width="1.4"/>
<line x1="114.9" x2="114.9" y1="461.5" y2="467.4" stroke-width="1.4"/>
<line x1="184.7" x2="184.7" y1="461.5" y2="467.4" stroke-width="1.4"/>
<line x1="262.1" x2="262.1" y1="461.5" y2="467.4" stroke-width="1.4"/>
<line x1="336.9" x2="336.9" y1="461.5" y2="467.4" stroke-width="1.4"/>
<line x1="414.2" x2="414.2" y1="461.5" y2="467.4" stroke-width="1.4"/>
<line x1="489.0" x2="489.0" y1="461.5" y2="467.4" stroke-width="1.4"/>
<line x1="566.3" x2="566.3" y1="461.5" y2="467.4" stroke-width="1.4"/>
<line x1="643.6" x2="643.6" y1="461.5" y2="467.4" stroke-width="1.4"/>
<line x1="718.5" x2="718.5" y1="461.5" y2="467.4" stroke-width="1.4"/>
<line x1="795.8" x2="795.8" y1="461.5" y2="467.4" stroke-width="1.4"/>
<line x1="870.6" x2="870.6" y1="461.5" y2="467.4" stroke-width="1.4"/>
</g>
<line x1="257.9" x2="257.9" y1="398.8" y2="425.3" stroke="#2a2a2a" stroke-width="1.1"/>
<line x1="673.8" x2="673.8" y1="397.8" y2="424.4" stroke="#4a4a4a" stroke-width="1.3"/>
<g font-family="Liberation Sans, sans-serif" stroke-linejoin="round">
<g fill="#fff" stroke="#fff" stroke-width="10" opacity="0.55">
<text x="101" y="179" font-size="17.3" font-weight="bold" textLength="169" lengthAdjust="spacingAndGlyphs" >Arctic historical range</text>
<text x="142.5" y="226" font-size="17.3" font-weight="bold" textLength="103.5" lengthAdjust="spacingAndGlyphs" >Arctic sea ice</text>
<text x="142.5" y="246.6" font-size="17.3" font-weight="bold" textLength="110" lengthAdjust="spacingAndGlyphs" >extent in 2025</text>
<text x="576.7" y="124.8" font-size="17.3" font-weight="bold" textLength="192.8" lengthAdjust="spacingAndGlyphs" >Antarctic historical range</text>
<text x="794.7" y="144.5" font-size="17.3" font-weight="bold" textLength="127.3" lengthAdjust="spacingAndGlyphs" >Antarctic sea ice</text>
<text x="794.7" y="165" font-size="17.3" font-weight="bold" textLength="109.8" lengthAdjust="spacingAndGlyphs" >extent in 2025</text>
<text x="258.2" y="446.2" font-size="16.4" textLength="152.4" lengthAdjust="spacingAndGlyphs" >Antarctic record low</text>
<text x="674.6" y="445.2" font-size="16.4" textLength="128.5" lengthAdjust="spacingAndGlyphs" >Arctic record low</text>
</g>
<g fill="#fff" stroke="#fff" stroke-width="6.5">
<text x="101" y="179" font-size="17.3" font-weight="bold" textLength="169" lengthAdjust="spacingAndGlyphs" >Arctic historical range</text>
<text x="142.5" y="226" font-size="17.3" font-weight="bold" textLength="103.5" lengthAdjust="spacingAndGlyphs" >Arctic sea ice</text>
<text x="142.5" y="246.6" font-size="17.3" font-weight="bold" textLength="110" lengthAdjust="spacingAndGlyphs" >extent in 2025</text>
<text x="576.7" y="124.8" font-size="17.3" font-weight="bold" textLength="192.8" lengthAdjust="spacingAndGlyphs" >Antarctic historical range</text>
<text x="794.7" y="144.5" font-size="17.3" font-weight="bold" textLength="127.3" lengthAdjust="spacingAndGlyphs" >Antarctic sea ice</text>
<text x="794.7" y="165" font-size="17.3" font-weight="bold" textLength="109.8" lengthAdjust="spacingAndGlyphs" >extent in 2025</text>
<text x="258.2" y="446.2" font-size="16.4" textLength="152.4" lengthAdjust="spacingAndGlyphs" >Antarctic record low</text>
<text x="674.6" y="445.2" font-size="16.4" textLength="128.5" lengthAdjust="spacingAndGlyphs" >Arctic record low</text>
</g>
<text x="101" y="179" font-size="17.3" font-weight="bold" textLength="169" lengthAdjust="spacingAndGlyphs" fill="#e2847c">Arctic historical range</text>
<text x="142.5" y="226" font-size="17.3" font-weight="bold" textLength="103.5" lengthAdjust="spacingAndGlyphs" fill="#d5291d">Arctic sea ice</text>
<text x="142.5" y="246.6" font-size="17.3" font-weight="bold" textLength="110" lengthAdjust="spacingAndGlyphs" fill="#d5291d">extent in 2025</text>
<text x="576.7" y="124.8" font-size="17.3" font-weight="bold" textLength="192.8" lengthAdjust="spacingAndGlyphs" fill="#5c98d0">Antarctic historical range</text>
<text x="794.7" y="144.5" font-size="17.3" font-weight="bold" textLength="127.3" lengthAdjust="spacingAndGlyphs" fill="#0f3463">Antarctic sea ice</text>
<text x="794.7" y="165" font-size="17.3" font-weight="bold" textLength="109.8" lengthAdjust="spacingAndGlyphs" fill="#0f3463">extent in 2025</text>
<text x="258.2" y="446.2" font-size="16.4" textLength="152.4" lengthAdjust="spacingAndGlyphs" fill="#1e4678">Antarctic record low</text>
<text x="674.6" y="445.2" font-size="16.4" textLength="128.5" lengthAdjust="spacingAndGlyphs" fill="#d5291d">Arctic record low</text>
</g>
<g font-family="Liberation Sans, sans-serif" font-weight="bold" stroke-linejoin="miter">
<text x="824.8" y="528.8" font-size="34" textLength="80" lengthAdjust="spacingAndGlyphs" fill="#0f4c86" stroke="#0f4c86" stroke-width="1.1">Carbon</text>
<text x="906.4" y="528.8" font-size="34" textLength="53.5" lengthAdjust="spacingAndGlyphs" fill="#2f8fd8" stroke="#2f8fd8" stroke-width="1.1">Brief</text>
<text x="853" y="539.3" font-size="4.6" font-weight="normal" textLength="106" lengthAdjust="spacing" fill="#1f2d4a">CLEAR ON CLIMATE</text>
</g>
</svg>
</body></html>
